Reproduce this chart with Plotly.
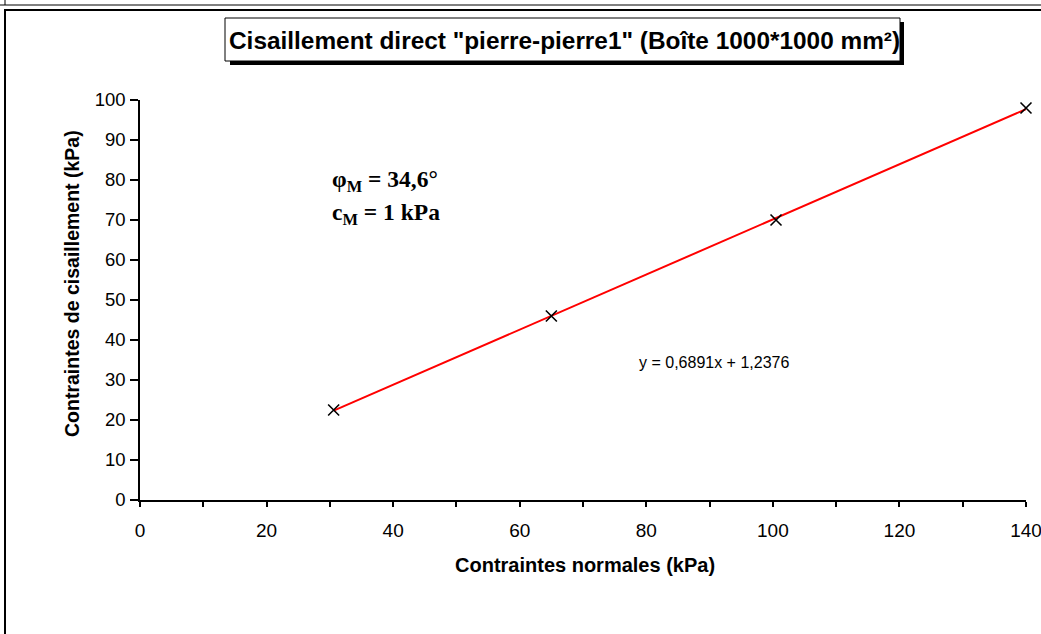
import plotly.graph_objects as go

normal_stress = [30.6, 65.0, 100.5, 140.0]
shear_stress = [22.5, 46.0, 70.0, 98.0]
slope = 0.6891
intercept = 1.2376
trend_x = [min(normal_stress), max(normal_stress)]
trend_y = [slope * v + intercept for v in trend_x]

W, H = 1041, 634
L, R, T, B = 140, 15, 100, 134
PW, PH = W - L - R, H - T - B


def px(x, y):
    return (x - L) / PW, (T + PH - y) / PH


fig = go.Figure()
fig.add_trace(go.Scatter(x=trend_x, y=trend_y, mode="lines",
                         line=dict(color="#ff0000", width=2), showlegend=False))
fig.add_trace(go.Scatter(x=normal_stress, y=shear_stress, mode="markers",
                         marker=dict(symbol="x-thin", size=11, line=dict(color="black", width=1.6)),
                         showlegend=False, cliponaxis=False))

shapes = []
# outer frames
x0, y0 = px(0, 5); x1, _ = px(W + 5, 5)
shapes.append(dict(type="line", xref="paper", yref="paper", x0=x0, y0=y0, x1=x1, y1=y0,
                   line=dict(color="black", width=1)))
xa, ya = px(5, -5); xb, yb = px(5, 5)
shapes.append(dict(type="line", xref="paper", yref="paper", x0=xa, y0=ya, x1=xb, y1=yb,
                   line=dict(color="black", width=1)))
xa, ya = px(5, 10); xb, yb = px(W + 10, H + 10)
shapes.append(dict(type="rect", xref="paper", yref="paper", x0=xa, y0=ya, x1=xb, y1=yb,
                   line=dict(color="black", width=2)))
# title box shadow + box
xa, ya = px(230, 22); xb, yb = px(904, 65)
shapes.append(dict(type="rect", xref="paper", yref="paper", x0=xa, y0=ya, x1=xb, y1=yb,
                   line=dict(width=0), fillcolor="black"))
xa, ya = px(225, 18); xb, yb = px(900, 61)
shapes.append(dict(type="rect", xref="paper", yref="paper", x0=xa, y0=ya, x1=xb, y1=yb,
                   line=dict(color="black", width=1), fillcolor="white"))

annotations = []
tx, ty = px(564, 40)
annotations.append(dict(x=tx, y=ty, xref="paper", yref="paper", showarrow=False,
                        text="<b>Cisaillement direct \"pierre-pierre1\" (Boîte 1000*1000 mm²)</b>",
                        font=dict(family="Liberation Sans, Arial", size=24.4, color="black"),
                        xanchor="center", yanchor="middle"))
ax, ay = px(585, 565)
annotations.append(dict(x=ax, y=ay, xref="paper", yref="paper", showarrow=False,
                        text="<b>Contraintes normales (kPa)</b>",
                        font=dict(family="Liberation Sans, Arial", size=20, color="black"),
                        xanchor="center", yanchor="middle"))
ax, ay = px(72, 284)
annotations.append(dict(x=ax, y=ay, xref="paper", yref="paper", showarrow=False, textangle=-90,
                        text="<b>Contraintes de cisaillement (kPa)</b>",
                        font=dict(family="Liberation Sans, Arial", size=19.5, color="black"),
                        xanchor="center", yanchor="middle"))
ax, ay = px(330, 181)
annotations.append(dict(x=ax, y=ay, xref="paper", yref="paper", showarrow=False,
                        text="<b>φ<sub>M</sub> = 34,6°</b>",
                        font=dict(family="Liberation Serif, Times New Roman", size=23.5, color="black"),
                        xanchor="left", yanchor="middle"))
ax, ay = px(330, 214)
annotations.append(dict(x=ax, y=ay, xref="paper", yref="paper", showarrow=False,
                        text="<b>c<sub>M</sub> = 1 kPa</b>",
                        font=dict(family="Liberation Serif, Times New Roman", size=23.5, color="black"),
                        xanchor="left", yanchor="middle"))
ax, ay = px(714, 362)
annotations.append(dict(x=ax, y=ay, xref="paper", yref="paper", showarrow=False,
                        text=f"y = {str(slope).replace('.', ',')}x + {str(intercept).replace('.', ',')}",
                        font=dict(family="Liberation Sans, Arial", size=16, color="black"),
                        xanchor="center", yanchor="middle"))

fig.update_layout(
    width=W, height=H, autosize=False,
    margin=dict(l=L, r=R, t=T, b=B, autoexpand=False),
    paper_bgcolor="white", plot_bgcolor="white",
    shapes=shapes, annotations=annotations,
    font=dict(family="Liberation Sans, Arial", color="black"),
    xaxis=dict(range=[0, 140], dtick=20, tick0=0, showgrid=False, zeroline=False,
               showline=True, linecolor="black", linewidth=1.5, automargin=False,
               ticks="outside", ticklen=5, tickcolor="black", tickwidth=1.5,
               ticklabelstandoff=7,
               tickfont=dict(size=19), fixedrange=True, ticklabeloverflow="allow",
               minor=dict(dtick=10, ticks="outside", ticklen=5, tickcolor="black", tickwidth=1.5,
                          showgrid=False)),
    yaxis=dict(range=[0, 100], dtick=10, tick0=0, showgrid=False, zeroline=False,
               showline=True, linecolor="black", linewidth=1.5, automargin=False,
               ticks="outside", ticklen=8, tickcolor="black", tickwidth=1.5,
               ticklabelstandoff=1,
               tickfont=dict(size=18.5), fixedrange=True),
)

fig.write_html("out.html", config=dict(displayModeBar=False),
               post_script="document.body.style.margin='0';document.body.style.overflow='hidden';")
